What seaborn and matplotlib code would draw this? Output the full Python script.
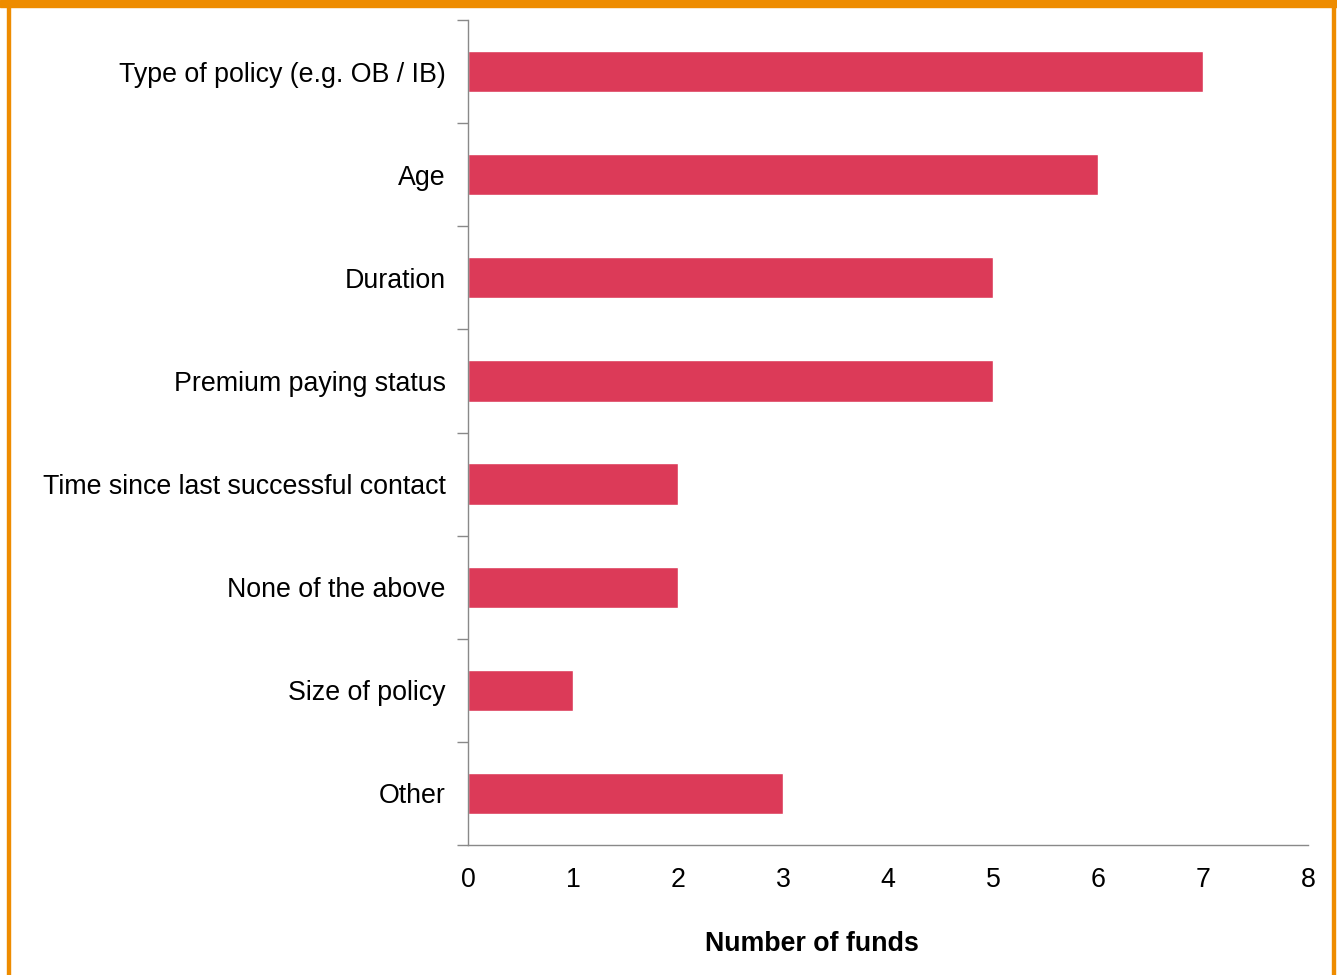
import matplotlib
matplotlib.use("Agg")
import matplotlib.pyplot as plt
import seaborn as sns
import pandas as pd
import numpy as np
from matplotlib.patches import Rectangle

categories = ["Type of policy (e.g. OB / IB)", "Age", "Duration", "Premium paying status",
              "Time since last successful contact", "None of the above", "Size of policy", "Other"]
values = [7, 6, 5, 5, 2, 2, 1, 3]
x_ticks = [0, 1, 2, 3, 4, 5, 6, 7, 8]

sns.set_theme(style="white")
plt.rcParams['font.family'] = ['Liberation Sans', 'DejaVu Sans']
plt.rcParams['text.color'] = 'black'
plt.rcParams['axes.labelcolor'] = 'black'
plt.rcParams['xtick.color'] = 'black'
plt.rcParams['ytick.color'] = 'black'

df = pd.DataFrame({"cat": categories, "val": values})
FS = 19.3

fig = plt.figure(figsize=(13.37, 9.75), dpi=100)
ax = fig.add_axes([468/1337, 1-845/975, (1308-468)/1337, (845-20)/975])
sns.barplot(data=df, x="val", y="cat", color="#DC3A58", width=0.4, ax=ax, saturation=1)

ax.set_xlim(0, 8)
ax.set_ylim(len(categories)-0.5, -0.5)
ax.set_xticks(x_ticks)
ax.set_xticklabels([str(t) for t in x_ticks], fontsize=FS)
ax.set_xlabel("Number of funds", fontsize=FS, fontweight="bold", va="center", color="black")
ax.xaxis.set_label_coords((812-468)/840, -(944-845)/825)
ax.set_ylabel("")
ax.tick_params(axis="y", which="major", length=0, labelsize=FS, pad=16, labelcolor="black")
ax.tick_params(axis="x", which="major", length=0, pad=16, labelcolor="black")
ax.set_yticks(np.arange(-0.5, len(categories), 1), minor=True)
ax.tick_params(axis="y", which="minor", length=8, width=1, color="#898989", left=True)
for s in ["top", "right"]:
    ax.spines[s].set_visible(False)
for s in ["left", "bottom"]:
    ax.spines[s].set_color("#898989")
    ax.spines[s].set_linewidth(1)

orange = "#EE8C00"
fig.patches.append(Rectangle((0, 1-7/975), 1, 7/975, transform=fig.transFigure, color=orange, zorder=10))
fig.patches.append(Rectangle((7/1337, 0), 2.5/1337, 1, transform=fig.transFigure, color=orange, zorder=10))
fig.patches.append(Rectangle((1332/1337, 0), 2.5/1337, 1, transform=fig.transFigure, color=orange, zorder=10))

fig.savefig("out.png", dpi=100)
